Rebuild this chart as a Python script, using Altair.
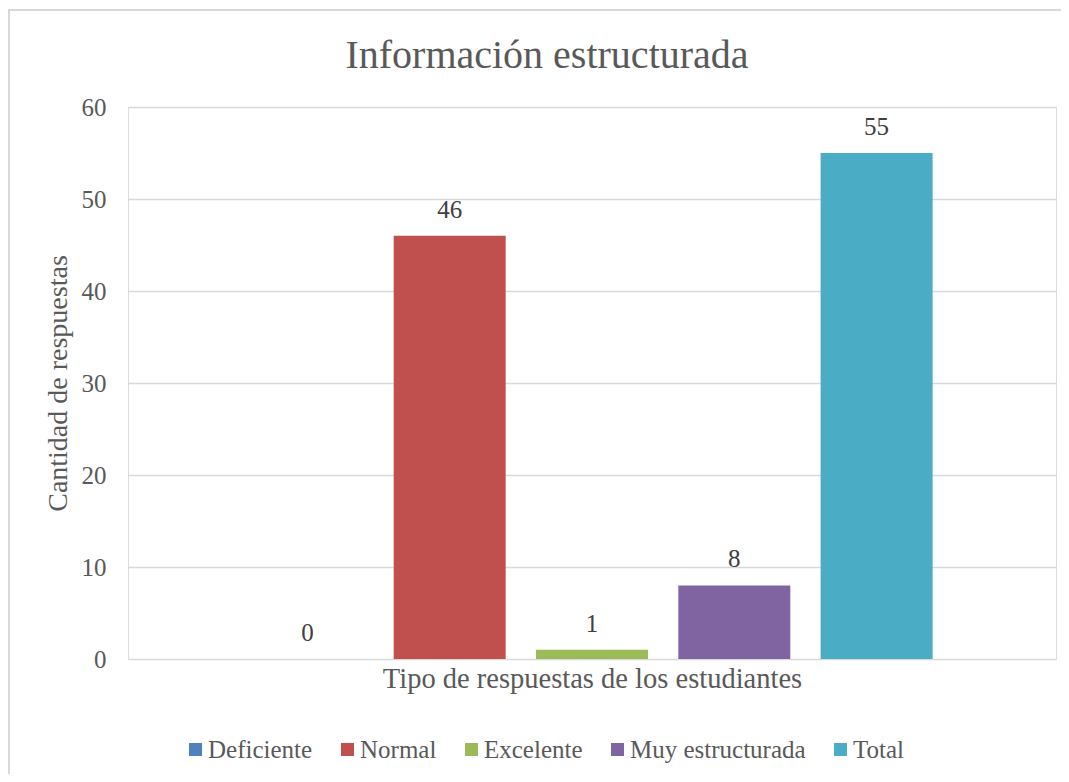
import altair as alt
import pandas as pd

series = ["Deficiente", "Normal", "Excelente", "Muy estructurada", "Total"]
values = [0, 46, 1, 8, 55]
colors = ["#4F81BD", "#C0504D", "#9BBB59", "#8064A2", "#4BACC6"]
y_ticks = [0, 10, 20, 30, 40, 50, 60]

df = pd.DataFrame({"serie": series, "valor": values})

FONT = "Liberation Serif"
GREY = "#595959"

x_enc = alt.X(
    "serie:N",
    sort=series,
    scale=alt.Scale(paddingInner=0.213, paddingOuter=0.867),
    axis=alt.Axis(
        title="Tipo de respuestas de los estudiantes",
        labels=False, ticks=False, domain=False,
        titleFontSize=28.5, titleFont=FONT, titleColor=GREY, titleFontWeight="normal",
        titleX=464, titleY=28, titleBaseline="alphabetic", titleAlign="center",
    ),
)
y_enc = alt.Y(
    "valor:Q",
    scale=alt.Scale(domain=[0, 60], nice=False),
    axis=alt.Axis(
        title="Cantidad de respuestas",
        values=y_ticks, tickSize=0, ticks=False, domain=False,
        labelPadding=22, labelFontSize=25, labelFont=FONT, labelColor=GREY,
        gridColor="#D9D9D9", gridWidth=1.5,
        titleFontSize=28, titleFont=FONT, titleColor=GREY, titleFontWeight="normal",
        titleX=-62, titleY=276, titleBaseline="alphabetic", titleAlign="center", titleAngle=270,
    ),
)

bars = alt.Chart(df).mark_bar().encode(
    x=x_enc,
    y=y_enc,
    color=alt.Color(
        "serie:N",
        sort=series,
        scale=alt.Scale(domain=series, range=colors),
        legend=alt.Legend(
            title=None, orient="none", direction="horizontal", columns=5,
            legendX=55, legendY=630, padding=0, gridAlign="none",
            symbolType="square", symbolSize=169, symbolStrokeWidth=0,
            labelFontSize=25, labelFont=FONT, labelColor=GREY, labelOffset=0,
            labelLimit=1000, columnPadding=22,
        ),
    ),
)

labels = alt.Chart(df).mark_text(
    dy=-18, baseline="alphabetic", fontSize=25, font=FONT, color="#404040"
).encode(
    x=alt.X("serie:N", sort=series),
    y="valor:Q",
    text="valor:Q",
)

border_df = pd.DataFrame({"k": [0]})
top_border = alt.Chart(border_df).mark_rule(color="#D9D9D9", strokeWidth=2).encode(
    x=alt.value(-120), x2=alt.value(941), y=alt.value(-97)
)
left_border = alt.Chart(border_df).mark_rule(color="#D9D9D9", strokeWidth=2).encode(
    x=alt.value(-119), y=alt.value(-98), y2=alt.value(675)
)

chart = (
    alt.layer(top_border, left_border, bars, labels)
    .properties(
        width=928,
        height=552,
        title=alt.TitleParams(
            "Información estructurada", fontSize=40, font=FONT, color=GREY,
            fontWeight="normal", anchor="middle", dx=-45, offset=0,
            baseline="alphabetic", dy=100,
        ),
        autosize=alt.AutoSizeParams(type="none"),
        padding={"left": 120, "top": 99, "right": 5, "bottom": 115},
    )
    .configure_view(stroke=None)
    .configure(background="white")
)

chart.save("out.html", embed_options={"renderer": "svg", "actions": False})
